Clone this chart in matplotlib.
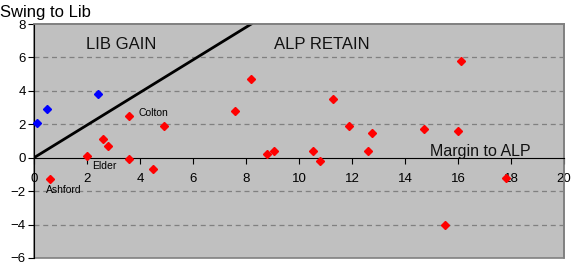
import matplotlib.pyplot as plt
from matplotlib.patches import Rectangle

plt.rcParams['font.family'] = ['Liberation Sans', 'DejaVu Sans']

# Seats held by Lib (blue) and ALP (red): margin to ALP vs swing to Lib
lib_margin = [0.12, 0.5, 2.43]
lib_swing = [2.06, 2.9, 3.8]

alp_margin = [0.6, 2.0, 2.6, 2.8, 3.6, 3.6, 4.5, 4.9, 7.6, 8.2, 8.8, 9.04,
              10.52, 10.8, 11.3, 11.9, 12.6, 12.74, 14.73, 15.5, 16.0, 16.12, 17.8]
alp_swing = [-1.26, 0.1, 1.1, 0.7, 2.5, -0.1, -0.66, 1.9, 2.78, 4.69, 0.2, 0.38,
             0.38, -0.22, 3.5, 1.9, 0.38, 1.46, 1.7, -4.05, 1.58, 5.77, -1.23]

labels = ['Colton', 'Elder', 'Ashford']
label_x = [3.95, 2.2, 0.45]
label_y = [2.65, -0.5, -1.95]

pendulum_x = [0, 8.2]
pendulum_y = [0, 8]

fig = plt.figure(figsize=(5.76, 2.76), dpi=100)
ax = fig.add_axes([34 / 576, 18 / 276, 530 / 576, 234 / 276])
ax.set_facecolor('#C0C0C0')

ax.set_xlim(0, 20)
ax.set_ylim(-6, 8)
ax.set_xticks(range(0, 21, 2))
ax.set_yticks(range(-6, 9, 2))

for y in [-4, -2, 2, 4, 6]:
    ax.axhline(y, color='#808080', lw=0.9, ls=(0, (4, 3)), zorder=1)

ax.plot(pendulum_x, pendulum_y, color='black', lw=2, zorder=2)

ax.plot(alp_margin, alp_swing, 'D', color='red', ms=4, zorder=3, clip_on=False)
ax.plot(lib_margin, lib_swing, 'D', color='blue', ms=4, zorder=3, clip_on=False)

for t, x, y in zip(labels, label_x, label_y):
    ax.text(x, y, t, fontsize=7.5, ha='left', va='center', zorder=4)

ax.text(3.3, 6.75, 'LIB GAIN', fontsize=12, ha='center', va='center', color='#111111')
ax.text(10.85, 6.75, 'ALP RETAIN', fontsize=12, ha='center', va='center', color='#111111')
ax.text(16.85, 0.4, 'Margin to ALP', fontsize=11.5, ha='center', va='center', color='#111111')

# spines: axes cross at zero, grey frame around the plot area
ax.spines['bottom'].set_position(('data', 0))
ax.spines['bottom'].set_color('black')
ax.spines['left'].set_color('black')
ax.spines['top'].set_color('#808080')
ax.spines['right'].set_color('#808080')
ax.spines['top'].set_linewidth(1.2)
ax.spines['right'].set_linewidth(1.2)
ax.add_patch(Rectangle((0, 0), 1, 1, transform=ax.transAxes, fill=False,
                       edgecolor='#808080', lw=1.2, zorder=0, clip_on=False))

ax.tick_params(axis='x', direction='out', length=4, labelsize=9.5, pad=7)
ax.tick_params(axis='y', direction='out', length=4, labelsize=9.5, pad=2)

fig.text(0.0, 0.955, 'Swing to Lib', fontsize=12, ha='left', va='center')

fig.savefig('out.png', dpi=100)
